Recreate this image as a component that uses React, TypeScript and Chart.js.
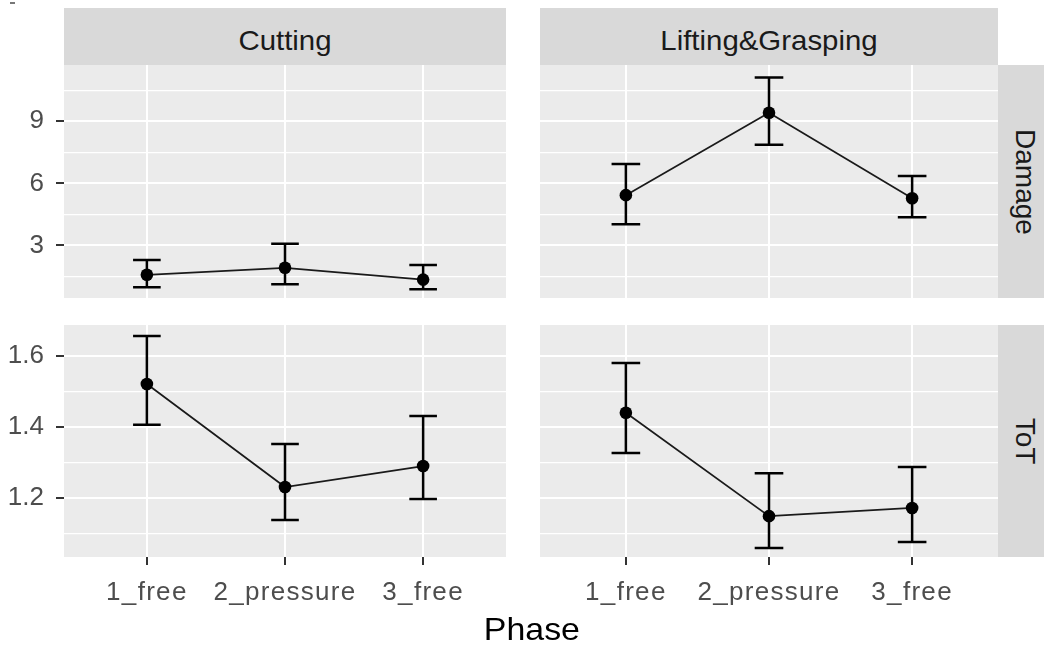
import React, { useEffect, useRef } from 'react';
import { Chart, registerables } from 'chart.js';

Chart.register(...registerables);

// ---- data ----
const phases = ['1_free', '2_pressure', '3_free'];
const tasks = ['Cutting', 'Lifting&Grasping'];
const measures = ['Damage', 'ToT'];
const xAxisTitle = 'Phase';

const cuttingDamageMean = [1.58, 1.92, 1.35];
const cuttingDamageLower = [0.98, 1.12, 0.88];
const cuttingDamageUpper = [2.3, 3.08, 2.05];

const liftingDamageMean = [5.43, 9.41, 5.28];
const liftingDamageLower = [4.02, 7.87, 4.36];
const liftingDamageUpper = [6.94, 11.11, 6.36];

const cuttingToTMean = [1.521, 1.231, 1.29];
const cuttingToTLower = [1.406, 1.138, 1.197];
const cuttingToTUpper = [1.656, 1.352, 1.431];

const liftingToTMean = [1.44, 1.149, 1.172];
const liftingToTLower = [1.327, 1.059, 1.076];
const liftingToTUpper = [1.58, 1.27, 1.287];

const damageGridTicks = [1.5, 3, 4.5, 6, 7.5, 9, 10.5];
const damageLabelTicks = [3, 6, 9];
const damageRange = [0.46, 11.72];

const totGridTicks = [1.1, 1.2, 1.3, 1.4, 1.5, 1.6];
const totLabelTicks = [1.2, 1.4, 1.6];
const totRange = [1.034, 1.687];

// ---- styling ----
const FONT = '"Liberation Sans", Arial, sans-serif';
const PANEL_BG = '#EBEBEB';
const STRIP_BG = '#D9D9D9';

const isIn = (arr: number[], v: number) => arr.some((a) => Math.abs(a - v) < 1e-6);

const panelBgPlugin = {
  id: 'panelBg',
  beforeDraw(chart: any) {
    const { ctx, chartArea } = chart;
    ctx.save();
    ctx.fillStyle = PANEL_BG;
    ctx.fillRect(chartArea.left, chartArea.top, chartArea.right - chartArea.left, chartArea.bottom - chartArea.top);
    ctx.restore();
  },
};

const errorBarPlugin = {
  id: 'errorBars',
  beforeDatasetsDraw(chart: any, _args: any, opts: any) {
    const { ctx } = chart;
    const x = chart.scales.x;
    const y = chart.scales.y;
    const lower: number[] = opts.lower || [];
    const upper: number[] = opts.upper || [];
    ctx.save();
    ctx.strokeStyle = '#000';
    ctx.lineWidth = 2.5;
    lower.forEach((lo, i) => {
      const xv = i + 1;
      const px = x.getPixelForValue(xv);
      const xa = x.getPixelForValue(xv - 0.1);
      const xb = x.getPixelForValue(xv + 0.1);
      const p0 = y.getPixelForValue(lo);
      const p1 = y.getPixelForValue(upper[i]);
      ctx.beginPath();
      ctx.moveTo(px, p0);
      ctx.lineTo(px, p1);
      ctx.moveTo(xa, p0);
      ctx.lineTo(xb, p0);
      ctx.moveTo(xa, p1);
      ctx.lineTo(xb, p1);
      ctx.stroke();
    });
    ctx.restore();
  },
};

type PanelProps = {
  left: number;
  top: number;
  width: number;
  height: number;
  yAxisWidth: number;
  xAxisHeight: number;
  showY: boolean;
  showX: boolean;
  mean: number[];
  lower: number[];
  upper: number[];
  gridTicks: number[];
  labelTicks: number[];
  range: number[];
  digits: number;
};

function Panel(p: PanelProps) {
  const ref = useRef<HTMLCanvasElement>(null);
  useEffect(() => {
    if (!ref.current) return;
    const zeroPad = (s: any) => {
      s.paddingTop = 0;
      s.paddingBottom = 0;
      s.paddingLeft = 0;
      s.paddingRight = 0;
    };
    const chart = new Chart(ref.current, {
      type: 'line',
      data: {
        datasets: [
          {
            data: p.mean.map((m, i) => ({ x: i + 1, y: m })),
            borderColor: '#1a1a1a',
            borderWidth: 1.7,
            pointRadius: 6.3,
            pointBackgroundColor: '#000',
            pointBorderColor: '#000',
            pointBorderWidth: 0,
            tension: 0,
          },
        ],
      },
      options: {
        responsive: false,
        animation: false,
        devicePixelRatio: 1,
        layout: { padding: 0, autoPadding: false },
        events: [],
        plugins: {
          legend: { display: false },
          tooltip: { enabled: false },
          errorBars: { lower: p.lower, upper: p.upper },
        } as any,
        scales: {
          x: {
            type: 'linear',
            position: 'bottom',
            min: 0.4,
            max: 3.6,
            afterBuildTicks: (s: any) => {
              s.ticks = phases.map((_, i) => ({ value: i + 1 }));
            },
            afterFit: (s: any) => {
              s.height = p.xAxisHeight;
              zeroPad(s);
              if (!s.__spaced) {
                const orig = s.drawLabels;
                s.drawLabels = function (area: any) {
                  const c: any = this.ctx;
                  c.save();
                  try {
                    c.letterSpacing = '1.3px';
                  } catch (e) {
                    /* ignore */
                  }
                  orig.call(this, area);
                  c.restore();
                };
                s.__spaced = true;
              }
            },
            ticks: {
              display: p.showX,
              autoSkip: false,
              maxRotation: 0,
              minRotation: 0,
              padding: 12,
              color: '#4D4D4D',
              font: { family: FONT, size: 26 },
              callback: (v: any) => phases[Math.round(Number(v)) - 1] ?? '',
            },
            grid: {
              color: '#FFFFFF',
              lineWidth: 2,
              drawTicks: p.showX,
              tickLength: 8,
              tickColor: '#333333',
              tickWidth: 2,
            },
            border: { display: false },
          },
          y: {
            type: 'linear',
            position: 'left',
            min: p.range[0],
            max: p.range[1],
            afterBuildTicks: (s: any) => {
              s.ticks = p.gridTicks.map((v) => ({ value: v }));
            },
            afterFit: (s: any) => {
              s.width = p.yAxisWidth;
              zeroPad(s);
            },
            ticks: {
              display: p.showY,
              autoSkip: false,
              padding: 12,
              color: '#4D4D4D',
              font: { family: FONT, size: 26 },
              callback: (v: any) => (isIn(p.labelTicks, Number(v)) ? Number(v).toFixed(p.digits) : ''),
            },
            grid: {
              color: '#FFFFFF',
              lineWidth: (ctx: any) => (isIn(p.labelTicks, ctx.tick?.value) ? 2 : 1.2),
              drawTicks: p.showY,
              tickLength: 8,
              tickColor: (ctx: any) => (isIn(p.labelTicks, ctx.tick?.value) ? '#333333' : 'rgba(0,0,0,0)'),
              tickWidth: 2,
            },
            border: { display: false },
          },
        },
      } as any,
      plugins: [panelBgPlugin, errorBarPlugin],
    });
    return () => chart.destroy();
  }, []);
  return (
    <canvas
      ref={ref}
      width={p.width}
      height={p.height}
      style={{ position: 'absolute', left: p.left, top: p.top, width: p.width, height: p.height, display: 'block' }}
    />
  );
}

function TopStrip({ left, width, label }: { left: number; width: number; label: string }) {
  return (
    <div style={{ position: 'absolute', left, top: 8, width, height: 57, background: STRIP_BG }}>
      <div
        style={{
          position: 'absolute',
          left: 0,
          width: '100%',
          top: 18.5,
          height: 28,
          lineHeight: '28px',
          fontSize: 28,
          fontFamily: FONT,
          color: '#1A1A1A',
          textAlign: 'center',
          whiteSpace: 'nowrap',
          transform: 'scaleX(1.05)',
        }}
      >
        {label}
      </div>
    </div>
  );
}

function SideStrip({ top, height, label }: { top: number; height: number; label: string }) {
  const cx = 1024.5 - 998;
  return (
    <div style={{ position: 'absolute', left: 998, top, width: 57, height, background: STRIP_BG }}>
      <div
        style={{
          position: 'absolute',
          left: cx - height / 2,
          top: height / 2 - 14,
          width: height,
          height: 28,
          lineHeight: '28px',
          fontSize: 28,
          fontFamily: FONT,
          color: '#1A1A1A',
          textAlign: 'center',
          whiteSpace: 'nowrap',
          transform: 'rotate(90deg)',
          transformOrigin: '50% 50%',
        }}
      >
        {label}
      </div>
    </div>
  );
}

export default function App() {
  return (
    <div
      style={{
        position: 'absolute',
        left: 0,
        top: 0,
        width: 1044,
        height: 650,
        overflow: 'hidden',
        background: '#FFFFFF',
        fontFamily: FONT,
      }}
    >
      <div style={{ position: 'absolute', left: 10, top: 2, width: 5, height: 2, background: '#777' }} />
      <TopStrip left={64} width={442} label={tasks[0]} />
      <TopStrip left={540} width={458} label={tasks[1]} />
      <SideStrip top={65} height={233} label={measures[0]} />
      <SideStrip top={325} height={232} label={measures[1]} />

      <Panel
        left={0} top={65} width={506} height={233} yAxisWidth={64} xAxisHeight={0} showY={true} showX={false}
        mean={cuttingDamageMean} lower={cuttingDamageLower} upper={cuttingDamageUpper}
        gridTicks={damageGridTicks} labelTicks={damageLabelTicks} range={damageRange} digits={0}
      />
      <Panel
        left={540} top={65} width={458} height={233} yAxisWidth={0} xAxisHeight={0} showY={false} showX={false}
        mean={liftingDamageMean} lower={liftingDamageLower} upper={liftingDamageUpper}
        gridTicks={damageGridTicks} labelTicks={damageLabelTicks} range={damageRange} digits={0}
      />
      <Panel
        left={0} top={325} width={506} height={290} yAxisWidth={64} xAxisHeight={58} showY={true} showX={true}
        mean={cuttingToTMean} lower={cuttingToTLower} upper={cuttingToTUpper}
        gridTicks={totGridTicks} labelTicks={totLabelTicks} range={totRange} digits={1}
      />
      <Panel
        left={540} top={325} width={458} height={290} yAxisWidth={0} xAxisHeight={58} showY={false} showX={true}
        mean={liftingToTMean} lower={liftingToTLower} upper={liftingToTUpper}
        gridTicks={totGridTicks} labelTicks={totLabelTicks} range={totRange} digits={1}
      />

      <div
        style={{
          position: 'absolute',
          left: 0,
          width: 1064,
          top: 613,
          height: 32,
          lineHeight: '32px',
          fontSize: 32,
          fontFamily: FONT,
          color: '#000',
          textAlign: 'center',
          transform: 'scaleX(1.06)',
          transformOrigin: '534px 50%',
        }}
      >
        {xAxisTitle}
      </div>
    </div>
  );
}
